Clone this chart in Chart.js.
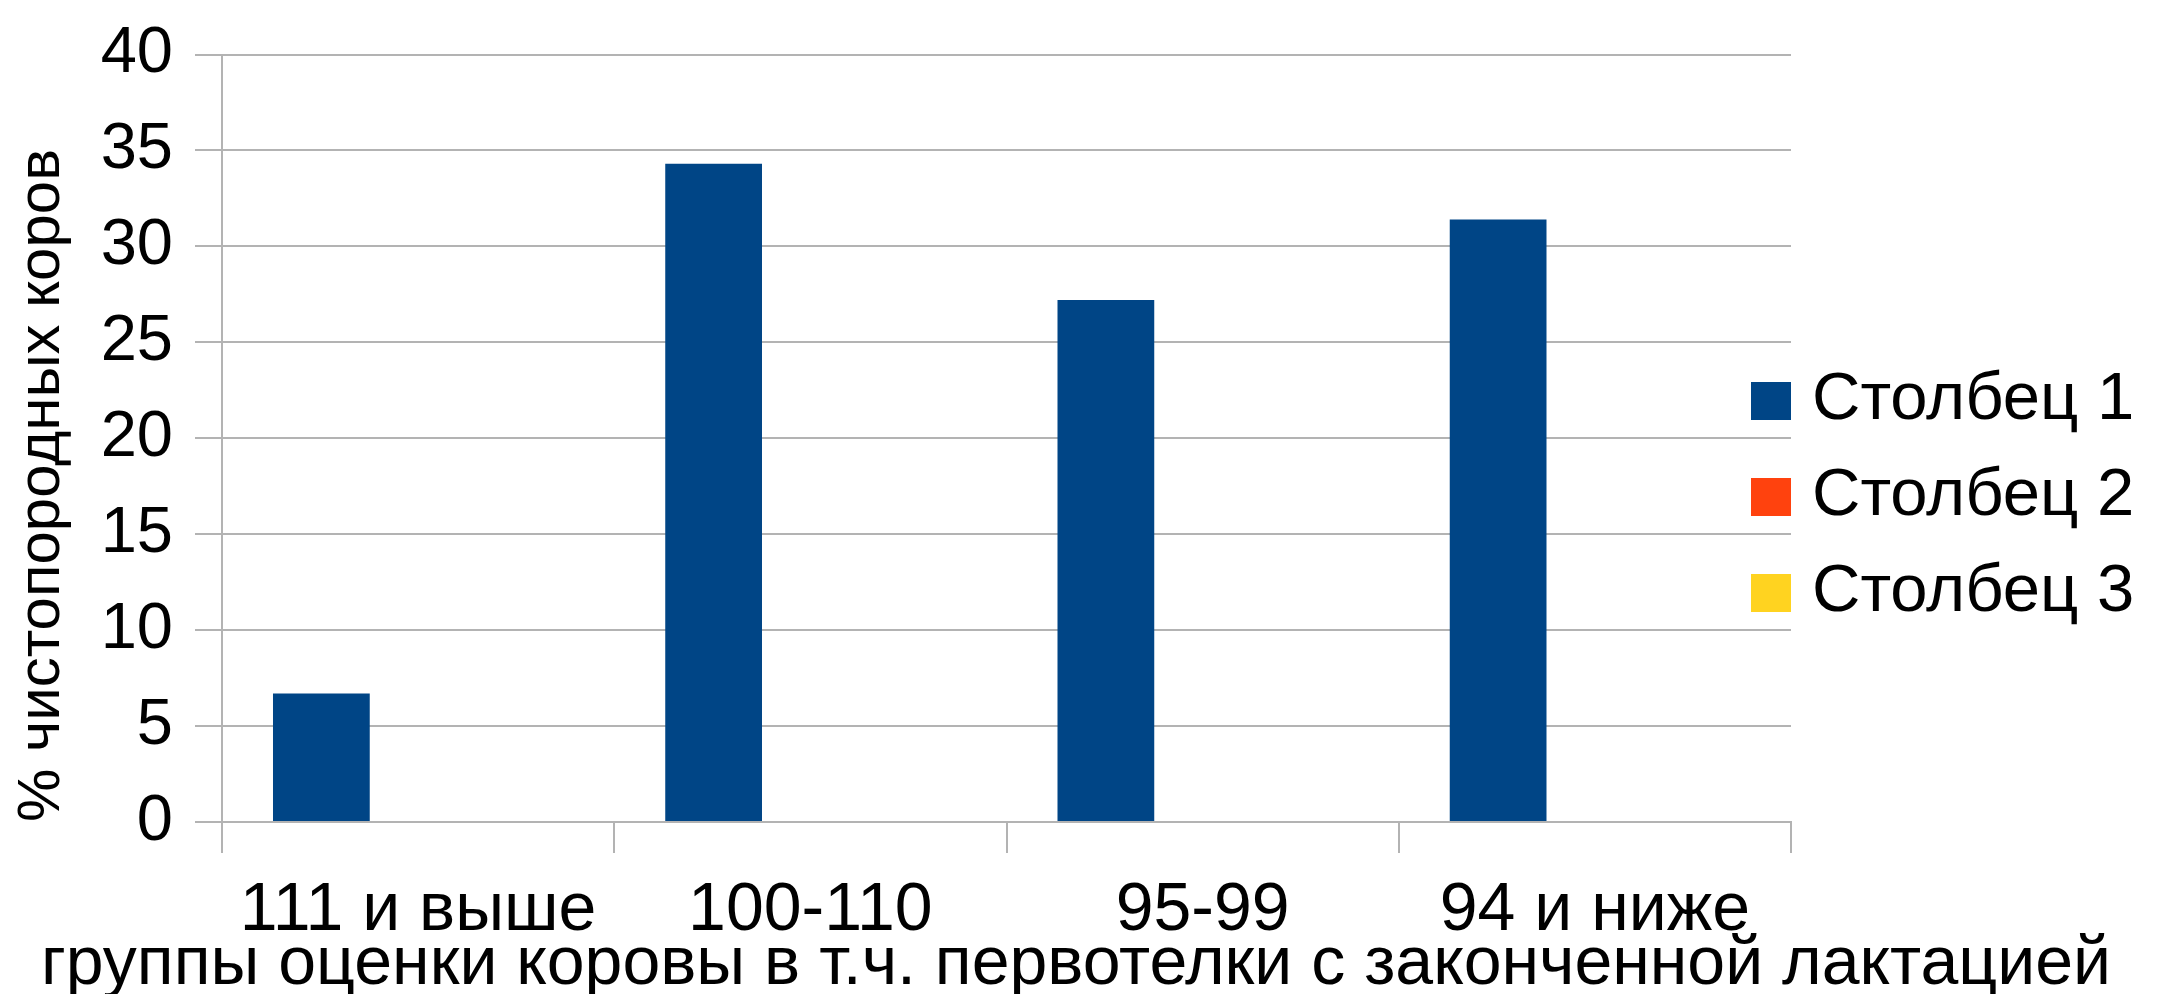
<!DOCTYPE html>
<html>
<head>
<meta charset="utf-8">
<script src="https://cdn.jsdelivr.net/npm/chart.js@4.4.1/dist/chart.umd.min.js"></script>
<style>
  html, body { margin: 0; padding: 0; background: #fff; }
  #wrap { width: 2164px; height: 994px; }
</style>
</head>
<body>
<div id="wrap"><canvas id="chart"></canvas></div>
<script>
// данные с картинки
const categories = ['111 и выше', '100-110', '95-99', '94 и ниже'];
const seriesNames = ['Столбец 1', 'Столбец 2', 'Столбец 3'];
const seriesColors = ['#004586', '#ff420e', '#ffd320'];
const col1 = [6.7, 34.3, 27.2, 31.4];
const col2 = [null, null, null, null];
const col3 = [null, null, null, null];
const yTicks = [0, 5, 10, 15, 20, 25, 30, 35, 40];
const xTitle = 'группы оценки коровы в т.ч. первотелки с законченной лактацией';
const yTitle = '% чистопородных коров';

const FONT = '"Liberation Sans", Arial, sans-serif';
const GRID = '#b3b3b3';

// легенда справа и подпись оси X во всю ширину, как в LibreOffice
const extras = {
  id: 'extras',
  afterDraw(chart) {
    const ctx = chart.ctx;
    const area = chart.chartArea;
    const n = chart.data.datasets.length;
    const step = 96, box = 40;
    const mid = chart.height / 2;
    ctx.save();
    ctx.font = '67px ' + FONT;
    ctx.textBaseline = 'middle';
    ctx.textAlign = 'left';
    chart.data.datasets.forEach((ds, i) => {
      const cy = mid + (i - (n - 1) / 2) * step;
      ctx.fillStyle = ds.backgroundColor;
      ctx.fillRect(area.right - box, cy - 19, box, 38);
      ctx.fillStyle = '#000';
      ctx.fillText(ds.label, area.right + 21, cy);
    });
    ctx.font = '68px ' + FONT;
    ctx.textAlign = 'center';
    ctx.fillText(xTitle, chart.width / 2 - 6, chart.height - 29);
    ctx.restore();
  }
};

const series = [col1, col2, col3];
new Chart(document.getElementById('chart'), {
  type: 'bar',
  data: {
    labels: categories,
    datasets: series.map((d, i) => ({
      label: seriesNames[i],
      data: d,
      backgroundColor: seriesColors[i],
      borderWidth: 0,
      barPercentage: 1,
      categoryPercentage: 0.74
    }))
  },
  options: {
    responsive: true,
    maintainAspectRatio: false,
    animation: false,
    layout: { padding: { top: 41, right: 373, left: 0, bottom: 0 } },
    plugins: {
      legend: { display: false },
      tooltip: { enabled: false },
      title: { display: false }
    },
    scales: {
      x: {
        afterFit(scale) { scale.height = 172; },
        grid: {
          offset: true,
          color: c => (c.index === categories.length ? GRID : 'rgba(0,0,0,0)'),
          tickColor: GRID,
          tickLength: 31,
          lineWidth: 2
        },
        border: { display: true, color: GRID, width: 2 },
        ticks: {
          color: '#000',
          padding: 24,
          maxRotation: 0,
          font: { family: FONT, size: 68, lineHeight: 1 }
        }
      },
      y: {
        min: 0,
        max: 40,
        afterFit(scale) { scale.width = 222; },
        afterBuildTicks(scale) { scale.ticks = yTicks.map(v => ({ value: v })); },
        grid: { color: GRID, tickColor: GRID, tickLength: 27, lineWidth: 2 },
        border: { display: true, color: GRID, width: 2 },
        ticks: {
          color: '#000',
          padding: 22,
          font: { family: FONT, size: 65, lineHeight: 1 }
        },
        title: {
          display: true,
          text: yTitle,
          align: 'start',
          color: '#000',
          font: { family: FONT, size: 60, lineHeight: 1 },
          padding: { top: 12, bottom: 0 }
        }
      }
    }
  },
  plugins: [extras]
});
</script>
</body>
</html>
